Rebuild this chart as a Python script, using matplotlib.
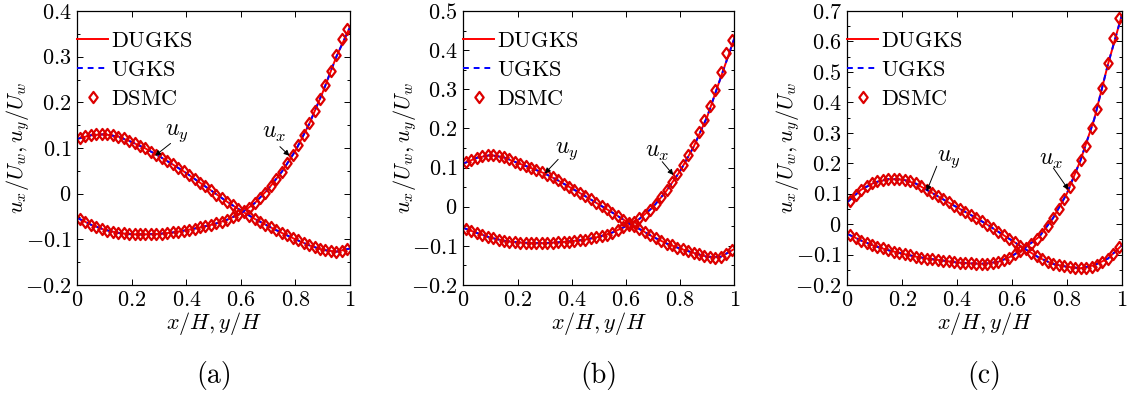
import numpy as np
import matplotlib
matplotlib.use("Agg")
import matplotlib.pyplot as plt
from matplotlib.path import Path
from matplotlib.ticker import MultipleLocator, FuncFormatter

plt.rcParams["font.family"] = "serif"
plt.rcParams["font.serif"] = ["cmr10", "DejaVu Serif"]
plt.rcParams["mathtext.fontset"] = "cm"

# --- line data (DUGKS / UGKS), x = 0, 0.05, ..., 1 ---
x_line = [0.00, 0.05, 0.10, 0.15, 0.20, 0.25, 0.30, 0.35, 0.40, 0.45, 0.50,
          0.55, 0.60, 0.65, 0.70, 0.75, 0.80, 0.85, 0.90, 0.95, 1.00]

ux_a = [-0.053, -0.068, -0.079, -0.086, -0.089, -0.089, -0.088, -0.085, -0.080, -0.074, -0.067,
        -0.057, -0.043, -0.021, 0.010, 0.048, 0.094, 0.152, 0.222, 0.300, 0.365]
uy_a = [0.120, 0.128, 0.130, 0.125, 0.113, 0.099, 0.082, 0.064, 0.045, 0.024, 0.003,
        -0.018, -0.037, -0.055, -0.071, -0.086, -0.100, -0.113, -0.123, -0.127, -0.120]

ux_b = [-0.054, -0.067, -0.079, -0.087, -0.091, -0.093, -0.093, -0.091, -0.088, -0.084, -0.077,
        -0.066, -0.050, -0.031, -0.001, 0.041, 0.091, 0.153, 0.230, 0.330, 0.430]
uy_b = [0.110, 0.125, 0.132, 0.126, 0.112, 0.099, 0.085, 0.067, 0.047, 0.027, 0.006,
        -0.015, -0.037, -0.057, -0.077, -0.094, -0.107, -0.118, -0.128, -0.128, -0.108]

ux_c = [-0.032, -0.054, -0.072, -0.086, -0.097, -0.107, -0.114, -0.120, -0.126, -0.129, -0.130,
        -0.124, -0.105, -0.076, -0.041, 0.020, 0.100, 0.210, 0.345, 0.525, 0.685]
uy_c = [0.072, 0.113, 0.137, 0.148, 0.147, 0.133, 0.107, 0.081, 0.055, 0.030, 0.004,
        -0.025, -0.054, -0.083, -0.111, -0.131, -0.140, -0.145, -0.135, -0.113, -0.070]

# --- DSMC points, x = 0.01, 0.03, ..., 0.99 ---
x_dsmc = [0.01, 0.03, 0.05, 0.07, 0.09, 0.11, 0.13, 0.15, 0.17, 0.19,
          0.21, 0.23, 0.25, 0.27, 0.29, 0.31, 0.33, 0.35, 0.37, 0.39,
          0.41, 0.43, 0.45, 0.47, 0.49, 0.51, 0.53, 0.55, 0.57, 0.59,
          0.61, 0.63, 0.65, 0.67, 0.69, 0.71, 0.73, 0.75, 0.77, 0.79,
          0.81, 0.83, 0.85, 0.87, 0.89, 0.91, 0.93, 0.95, 0.97, 0.99]

ux_dsmc_a = [-0.056, -0.062, -0.068, -0.073, -0.077, -0.081, -0.084, -0.086, -0.087, -0.088,
             -0.089, -0.089, -0.089, -0.089, -0.088, -0.088, -0.086, -0.085, -0.083, -0.081,
             -0.079, -0.077, -0.074, -0.071, -0.068, -0.065, -0.061, -0.057, -0.052, -0.046,
             -0.039, -0.031, -0.021, -0.010, 0.002, 0.017, 0.032, 0.048, 0.067, 0.085,
             0.107, 0.129, 0.154, 0.181, 0.207, 0.238, 0.269, 0.304, 0.338, 0.360]
uy_dsmc_a = [0.122, 0.126, 0.128, 0.130, 0.131, 0.130, 0.128, 0.125, 0.121, 0.116,
             0.111, 0.105, 0.099, 0.092, 0.085, 0.078, 0.071, 0.064, 0.056, 0.049,
             0.041, 0.033, 0.024, 0.016, 0.007, -0.002, -0.010, -0.018, -0.025, -0.033,
             -0.040, -0.048, -0.055, -0.062, -0.068, -0.074, -0.080, -0.086, -0.091, -0.097,
             -0.102, -0.108, -0.113, -0.117, -0.121, -0.124, -0.126, -0.127, -0.126, -0.122]

ux_dsmc_b = [-0.057, -0.062, -0.067, -0.072, -0.077, -0.081, -0.084, -0.087, -0.089, -0.091,
             -0.092, -0.093, -0.093, -0.093, -0.093, -0.093, -0.092, -0.091, -0.090, -0.089,
             -0.087, -0.086, -0.084, -0.081, -0.078, -0.075, -0.071, -0.066, -0.060, -0.053,
             -0.046, -0.039, -0.030, -0.021, -0.008, 0.006, 0.024, 0.043, 0.062, 0.084,
             0.107, 0.132, 0.158, 0.190, 0.222, 0.258, 0.299, 0.343, 0.393, 0.425]
uy_dsmc_b = [0.113, 0.119, 0.125, 0.129, 0.131, 0.132, 0.130, 0.126, 0.121, 0.115,
             0.110, 0.104, 0.099, 0.093, 0.088, 0.081, 0.075, 0.067, 0.059, 0.051,
             0.043, 0.035, 0.027, 0.019, 0.010, 0.002, -0.007, -0.015, -0.024, -0.033,
             -0.041, -0.049, -0.057, -0.065, -0.073, -0.080, -0.087, -0.094, -0.099, -0.105,
             -0.109, -0.114, -0.118, -0.122, -0.126, -0.129, -0.130, -0.128, -0.122, -0.111]

ux_dsmc_c = [-0.036, -0.046, -0.054, -0.062, -0.068, -0.075, -0.080, -0.086, -0.090, -0.095,
             -0.099, -0.103, -0.107, -0.110, -0.113, -0.115, -0.118, -0.120, -0.122, -0.125,
             -0.127, -0.128, -0.129, -0.130, -0.131, -0.130, -0.128, -0.124, -0.119, -0.111,
             -0.099, -0.089, -0.077, -0.064, -0.049, -0.031, -0.006, 0.021, 0.050, 0.082,
             0.121, 0.162, 0.211, 0.258, 0.316, 0.379, 0.447, 0.529, 0.612, 0.678]
uy_dsmc_c = [0.076, 0.095, 0.112, 0.125, 0.134, 0.140, 0.144, 0.147, 0.148, 0.148,
             0.146, 0.141, 0.134, 0.124, 0.113, 0.103, 0.093, 0.082, 0.072, 0.061,
             0.051, 0.040, 0.030, 0.019, 0.009, -0.002, -0.013, -0.025, -0.036, -0.048,
             -0.060, -0.072, -0.083, -0.094, -0.105, -0.115, -0.123, -0.130, -0.135, -0.139,
             -0.142, -0.144, -0.145, -0.144, -0.140, -0.133, -0.124, -0.113, -0.098, -0.076]

panels = [
    dict(ux=ux_a, uy=uy_a, ux_d=ux_dsmc_a, uy_d=uy_dsmc_a, ymax=0.4, tag="(a)",
         uy_txt=(0.366, 0.132), uy_tail=(0.342, 0.110), uy_tip=(0.285, 0.083),
         ux_txt=(0.722, 0.132), ux_tail=(0.743, 0.103), ux_tip=(0.778, 0.083)),
    dict(ux=ux_b, uy=uy_b, ux_d=ux_dsmc_b, uy_d=uy_dsmc_b, ymax=0.5, tag="(b)",
         uy_txt=(0.383, 0.143), uy_tail=(0.350, 0.121), uy_tip=(0.301, 0.085),
         ux_txt=(0.715, 0.140), ux_tail=(0.734, 0.115), ux_tip=(0.775, 0.081)),
    dict(ux=ux_c, uy=uy_c, ux_d=ux_dsmc_c, uy_d=uy_dsmc_c, ymax=0.7, tag="(c)",
         uy_txt=(0.370, 0.215), uy_tail=(0.326, 0.190), uy_tip=(0.289, 0.108),
         ux_txt=(0.741, 0.210), ux_tail=(0.751, 0.184), ux_tip=(0.806, 0.113)),
]

# axes boxes in pixels: left, width
boxes = [(77.3, 272.7), (463.3, 271.0), (847.3, 274.4)]
W, H = 1128, 394
ax_bottom, ax_top = 285.0, 11.0

# MATLAB-style diamond, a bit taller than wide
diamond = Path([(0, 1), (0.75, 0), (0, -1), (-0.75, 0), (0, 1)],
               [Path.MOVETO, Path.LINETO, Path.LINETO, Path.LINETO, Path.CLOSEPOLY])

fig = plt.figure(figsize=(W / 100, H / 100), dpi=100)


def tick_fmt(v, pos):
    return "$%s$" % ("%g" % round(v, 3))


for p, (left, width) in zip(panels, boxes):
    ax = fig.add_axes([left / W, (H - ax_bottom) / H, width / W,
                       (ax_bottom - ax_top) / H])
    ax.plot(x_line, p["ux"], color="red", lw=1.4, label=r"$\mathrm{DUGKS}$")
    ax.plot(x_line, p["uy"], color="red", lw=1.4)
    ax.plot(x_line, p["ux"], color="blue", lw=1.4, ls=(0, (3, 2.5)),
            label=r"$\mathrm{UGKS}$")
    ax.plot(x_line, p["uy"], color="blue", lw=1.4, ls=(0, (3, 2.5)))
    ax.plot(x_dsmc, p["ux_d"], ls="none", marker=diamond, ms=8, mfc="none",
            mec="#dd0000", mew=1.6, label=r"$\mathrm{DSMC}$")
    ax.plot(x_dsmc, p["uy_d"], ls="none", marker=diamond, ms=8, mfc="none",
            mec="#dd0000", mew=1.6)

    ax.set_xlim(0, 1)
    ax.set_ylim(-0.2, p["ymax"])
    ax.xaxis.set_major_locator(MultipleLocator(0.2))
    ax.yaxis.set_major_locator(MultipleLocator(0.1))
    ax.yaxis.set_minor_locator(MultipleLocator(0.05))
    ax.xaxis.set_major_formatter(FuncFormatter(tick_fmt))
    ax.yaxis.set_major_formatter(FuncFormatter(tick_fmt))
    ax.tick_params(which="both", direction="in", top=True, right=True,
                   labelsize=16, width=0.7)
    ax.tick_params(which="major", length=4, pad=4)
    ax.tick_params(which="minor", length=2)
    for sp in ax.spines.values():
        sp.set_linewidth(0.9)

    ax.set_xlabel(r"$x/H, y/H$", fontsize=16, labelpad=0)
    ax.set_ylabel(r"$u_x/U_w, u_y/U_w$", fontsize=16)
    ax.yaxis.set_label_coords(-0.165, 0.5)

    arrow = dict(arrowstyle="-|>", color="black", lw=0.7, mutation_scale=8,
                 shrinkA=0, shrinkB=0)
    ax.annotate("", xy=p["uy_tip"], xytext=p["uy_tail"], arrowprops=arrow)
    ax.annotate("", xy=p["ux_tip"], xytext=p["ux_tail"], arrowprops=arrow)
    ax.text(p["uy_txt"][0], p["uy_txt"][1], r"$u_y$", fontsize=17,
            ha="center", va="center")
    ax.text(p["ux_txt"][0], p["ux_txt"][1], r"$u_x$", fontsize=17,
            ha="center", va="center")

    ax.legend(loc="upper left", bbox_to_anchor=(0, 0.925), frameon=False,
              fontsize=16, handlelength=1.4, handletextpad=0.1,
              labelspacing=0.42, borderaxespad=0, borderpad=0, numpoints=1)

    ax.text(0.5, -0.33, p["tag"], transform=ax.transAxes, fontsize=20,
            ha="center", va="center")

fig.savefig("out.png", dpi=100)
